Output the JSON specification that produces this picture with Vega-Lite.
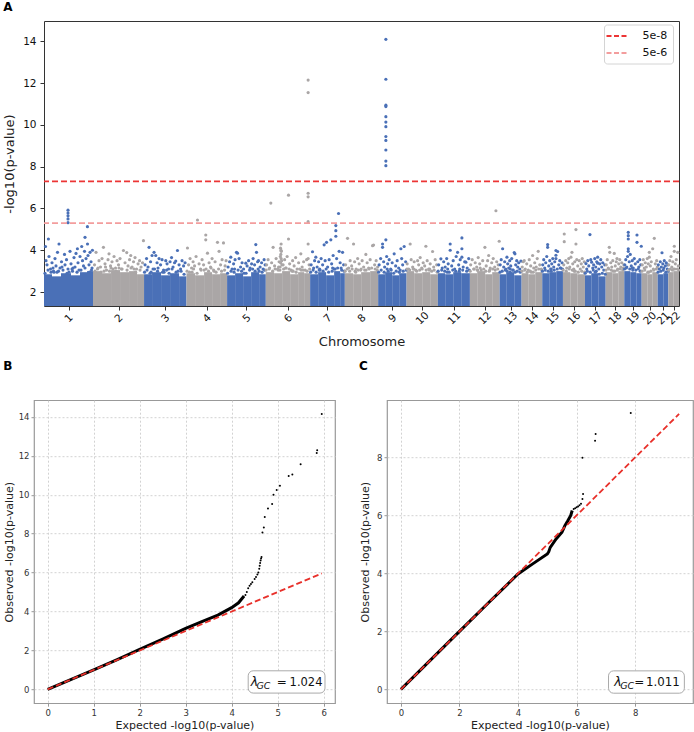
{
"$schema": "https://vega.github.io/schema/vega-lite/v6.json",
"background": "white",
"padding": {"left": 1, "top": 0, "right": 0, "bottom": 0},
"config": {"font": "DejaVu Sans", "view": {"stroke": null}, "axis": {"labelColor": "#222", "titleColor": "#222", "titleFontWeight": "normal"}, "axisX": {"labelOverlap": false}},
"datasets": {
"seg": [
{"c":1,"s":0,"e":8,"t":2.85},{"c":1,"s":8,"e":17,"t":2.75},{"c":1,"s":17,"e":27,"t":2.9},{"c":1,"s":27,"e":36,"t":2.8},{"c":1,"s":36,"e":43,"t":2.95},{"c":1,"s":43,"e":49,"t":3.0},
{"c":2,"s":49,"e":58,"t":3.0},{"c":2,"s":58,"e":67,"t":2.9},{"c":2,"s":67,"e":76,"t":3.05},{"c":2,"s":76,"e":85,"t":2.95},{"c":2,"s":85,"e":93,"t":3.0},{"c":2,"s":93,"e":100,"t":2.85},
{"c":3,"s":100,"e":108,"t":2.85},{"c":3,"s":108,"e":117,"t":2.95},{"c":3,"s":117,"e":126,"t":2.8},{"c":3,"s":126,"e":135,"t":2.9},{"c":3,"s":135,"e":142.4,"t":2.75},
{"c":4,"s":142.4,"e":151,"t":2.9},{"c":4,"s":151,"e":160,"t":2.8},{"c":4,"s":160,"e":168,"t":2.95},{"c":4,"s":168,"e":176,"t":2.85},{"c":4,"s":176,"e":183,"t":2.9},
{"c":5,"s":183,"e":191,"t":2.8},{"c":5,"s":191,"e":199,"t":2.9},{"c":5,"s":199,"e":207,"t":2.75},{"c":5,"s":207,"e":215,"t":2.95},{"c":5,"s":215,"e":221.7,"t":2.85},
{"c":6,"s":221.7,"e":230,"t":2.95},{"c":6,"s":230,"e":238,"t":2.9},{"c":6,"s":238,"e":246,"t":3.0},{"c":6,"s":246,"e":254,"t":2.85},{"c":6,"s":254,"e":260,"t":2.95},{"c":6,"s":260,"e":266,"t":2.9},
{"c":7,"s":266,"e":274,"t":2.85},{"c":7,"s":274,"e":282,"t":2.95},{"c":7,"s":282,"e":290,"t":2.8},{"c":7,"s":290,"e":296,"t":3.0},{"c":7,"s":296,"e":300.7,"t":2.9},
{"c":8,"s":300.7,"e":309,"t":2.9},{"c":8,"s":309,"e":317,"t":2.85},{"c":8,"s":317,"e":326,"t":2.95},{"c":8,"s":326,"e":334,"t":3.0},
{"c":9,"s":334,"e":341,"t":2.85},{"c":9,"s":341,"e":348,"t":2.95},{"c":9,"s":348,"e":355,"t":2.8},{"c":9,"s":355,"e":362.4,"t":2.9},
{"c":10,"s":362.4,"e":370,"t":3.0},{"c":10,"s":370,"e":378,"t":2.9},{"c":10,"s":378,"e":386,"t":2.95},{"c":10,"s":386,"e":393.7,"t":2.85},
{"c":11,"s":393.7,"e":401,"t":2.9},{"c":11,"s":401,"e":409,"t":2.85},{"c":11,"s":409,"e":417,"t":2.95},{"c":11,"s":417,"e":425.7,"t":2.9},
{"c":12,"s":425.7,"e":433,"t":2.9},{"c":12,"s":433,"e":441,"t":3.0},{"c":12,"s":441,"e":448,"t":2.85},{"c":12,"s":448,"e":455.4,"t":2.95},
{"c":13,"s":455.4,"e":462,"t":2.85},{"c":13,"s":462,"e":470,"t":2.95},{"c":13,"s":470,"e":477.4,"t":2.8},
{"c":14,"s":477.4,"e":484,"t":2.9},{"c":14,"s":484,"e":491,"t":2.85},{"c":14,"s":491,"e":498,"t":2.95},
{"c":15,"s":498,"e":505,"t":2.9},{"c":15,"s":505,"e":512,"t":2.95},{"c":15,"s":512,"e":518.7,"t":3.0},
{"c":16,"s":518.7,"e":526,"t":2.95},{"c":16,"s":526,"e":533,"t":2.9},{"c":16,"s":533,"e":540.7,"t":2.85},
{"c":17,"s":540.7,"e":547,"t":2.8},{"c":17,"s":547,"e":554,"t":2.9},{"c":17,"s":554,"e":561.4,"t":2.75},
{"c":18,"s":561.4,"e":568,"t":2.95},{"c":18,"s":568,"e":574,"t":2.9},{"c":18,"s":574,"e":580,"t":3.0},
{"c":19,"s":580,"e":586,"t":3.0},{"c":19,"s":586,"e":592,"t":2.95},{"c":19,"s":592,"e":597.4,"t":2.9},
{"c":20,"s":597.4,"e":603,"t":2.9},{"c":20,"s":603,"e":608,"t":2.85},{"c":20,"s":608,"e":613.4,"t":2.95},
{"c":21,"s":613.4,"e":619,"t":2.85},{"c":21,"s":619,"e":624,"t":2.9},
{"c":22,"s":624,"e":629,"t":2.95},{"c":22,"s":629,"e":634.7,"t":3.0}
],
"pts": [
{"c":1,"x":1.5,"p":4.18},{"c":1,"x":4.4,"p":4.54},{"c":1,"x":15,"p":4.3},{"c":1,"x":33.4,"p":4.07},{"c":1,"x":37.7,"p":4.18},{"c":1,"x":43.4,"p":5.13},{"c":1,"x":41,"p":4.62},{"c":1,"x":43.5,"p":4.3},{"c":1,"x":48.4,"p":4.0},{"c":1,"x":2,"p":3.5},{"c":1,"x":3,"p":3.3},{"c":1,"x":5,"p":3.7},{"c":1,"x":6.5,"p":3.1},{"c":1,"x":8,"p":3.4},{"c":1,"x":9.5,"p":3.0},{"c":1,"x":11,"p":3.6},{"c":1,"x":12,"p":3.25},{"c":1,"x":13.5,"p":3.9},{"c":1,"x":16,"p":3.15},{"c":1,"x":17.5,"p":3.45},{"c":1,"x":19,"p":3.05},{"c":1,"x":20.5,"p":3.8},{"c":1,"x":21,"p":3.3},{"c":1,"x":22.5,"p":3.55},{"c":1,"x":24,"p":3.1},{"c":1,"x":26,"p":3.95},{"c":1,"x":27,"p":3.35},{"c":1,"x":28.5,"p":3.0},{"c":1,"x":30,"p":3.65},{"c":1,"x":31,"p":3.2},{"c":1,"x":32,"p":3.85},{"c":1,"x":34,"p":3.4},{"c":1,"x":35,"p":3.05},{"c":1,"x":36,"p":3.7},{"c":1,"x":38.5,"p":3.5},{"c":1,"x":39.5,"p":3.25},{"c":1,"x":40.5,"p":3.95},{"c":1,"x":42,"p":3.6},{"c":1,"x":44,"p":3.75},{"c":1,"x":45,"p":3.3},{"c":1,"x":46,"p":3.9},{"c":1,"x":47,"p":3.45},{"c":1,"x":48,"p":3.15},{"c":1,"x":10,"p":2.95},{"c":1,"x":25,"p":2.95},{"c":1,"x":29,"p":3.15},{"c":1,"x":14.5,"p":3.0},{"c":1,"x":7,"p":2.95},{"c":1,"x":24,"p":5.92},{"c":1,"x":24,"p":5.78},{"c":1,"x":24,"p":5.65},{"c":1,"x":24,"p":5.5},{"c":1,"x":24,"p":5.32},
{"c":1,"x":1,"p":2.9},{"c":1,"x":4,"p":3.05},{"c":1,"x":9,"p":3.15},{"c":1,"x":13,"p":2.95},{"c":1,"x":18,"p":3.2},{"c":1,"x":23,"p":2.9},{"c":1,"x":28,"p":3.1},{"c":1,"x":33,"p":2.95},{"c":1,"x":37,"p":3.05},{"c":1,"x":41,"p":3.15},{"c":1,"x":45.5,"p":2.95},{"c":1,"x":47.5,"p":3.05},
{"c":2,"x":50.5,"p":3.3},{"c":2,"x":52,"p":3.9},{"c":2,"x":53.5,"p":3.1},{"c":2,"x":55,"p":3.5},{"c":2,"x":56.5,"p":3.2},{"c":2,"x":58,"p":3.6},{"c":2,"x":59.4,"p":4.14},{"c":2,"x":61,"p":3.35},{"c":2,"x":62.5,"p":3.05},{"c":2,"x":64,"p":3.55},{"c":2,"x":65,"p":3.83},{"c":2,"x":66.5,"p":3.25},{"c":2,"x":68,"p":3.45},{"c":2,"x":70,"p":3.7},{"c":2,"x":71.5,"p":3.15},{"c":2,"x":73,"p":3.5},{"c":2,"x":74.5,"p":3.3},{"c":2,"x":76,"p":3.6},{"c":2,"x":77.5,"p":3.1},{"c":2,"x":79.4,"p":3.99},{"c":2,"x":81,"p":3.4},{"c":2,"x":82.7,"p":3.89},{"c":2,"x":84,"p":3.25},{"c":2,"x":85.5,"p":3.55},{"c":2,"x":86.7,"p":3.75},{"c":2,"x":88,"p":3.2},{"c":2,"x":89.5,"p":3.45},{"c":2,"x":91,"p":3.65},{"c":2,"x":92.5,"p":3.1},{"c":2,"x":94,"p":3.35},{"c":2,"x":95.5,"p":3.5},{"c":2,"x":97,"p":3.2},{"c":2,"x":98.5,"p":3.4},{"c":2,"x":99.4,"p":4.46},{"c":2,"x":60,"p":3.0},{"c":2,"x":75,"p":3.15},{"c":2,"x":90,"p":3.1},{"c":2,"x":67,"p":3.15},
{"c":2,"x":51,"p":3.0},{"c":2,"x":54,"p":3.15},{"c":2,"x":57,"p":2.95},{"c":2,"x":61.5,"p":3.2},{"c":2,"x":65.5,"p":3.0},{"c":2,"x":69,"p":3.1},{"c":2,"x":72,"p":3.0},{"c":2,"x":78,"p":3.1},{"c":2,"x":83,"p":3.05},{"c":2,"x":87,"p":3.15},{"c":2,"x":91.5,"p":2.95},{"c":2,"x":96,"p":3.05},
{"c":3,"x":101,"p":3.3},{"c":3,"x":102.5,"p":3.6},{"c":3,"x":104,"p":3.2},{"c":3,"x":105,"p":4.14},{"c":3,"x":106.5,"p":3.45},{"c":3,"x":108,"p":3.75},{"c":3,"x":109,"p":3.1},{"c":3,"x":110,"p":3.9},{"c":3,"x":111.7,"p":3.75},{"c":3,"x":113,"p":3.4},{"c":3,"x":114,"p":3.15},{"c":3,"x":115,"p":3.6},{"c":3,"x":116.5,"p":3.3},{"c":3,"x":118,"p":3.55},{"c":3,"x":119.5,"p":3.05},{"c":3,"x":121.7,"p":3.5},{"c":3,"x":123,"p":3.35},{"c":3,"x":124.5,"p":3.1},{"c":3,"x":126,"p":3.45},{"c":3,"x":127.5,"p":3.65},{"c":3,"x":129,"p":3.2},{"c":3,"x":130.5,"p":3.4},{"c":3,"x":131.7,"p":3.48},{"c":3,"x":133.4,"p":3.99},{"c":3,"x":135,"p":3.3},{"c":3,"x":136.5,"p":3.1},{"c":3,"x":138,"p":3.5},{"c":3,"x":139.5,"p":3.25},{"c":3,"x":141,"p":3.4},{"c":3,"x":107,"p":2.95},{"c":3,"x":120,"p":2.95},{"c":3,"x":134,"p":3.0},
{"c":3,"x":100.5,"p":2.95},{"c":3,"x":103,"p":3.05},{"c":3,"x":106,"p":2.9},{"c":3,"x":110.5,"p":3.1},{"c":3,"x":113.5,"p":3.0},{"c":3,"x":118.5,"p":2.95},{"c":3,"x":122.5,"p":3.05},{"c":3,"x":125,"p":2.9},{"c":3,"x":128,"p":3.1},{"c":3,"x":132,"p":2.95},{"c":3,"x":137,"p":3.0},{"c":3,"x":140,"p":2.85},
{"c":4,"x":143.4,"p":4.11},{"c":4,"x":144.5,"p":3.3},{"c":4,"x":146,"p":3.6},{"c":4,"x":147.5,"p":3.15},{"c":4,"x":149,"p":3.45},{"c":4,"x":150.5,"p":3.25},{"c":4,"x":152,"p":3.7},{"c":4,"x":153.4,"p":5.45},{"c":4,"x":155,"p":3.35},{"c":4,"x":156.5,"p":3.1},{"c":4,"x":158,"p":3.55},{"c":4,"x":159.5,"p":3.3},{"c":4,"x":161.7,"p":4.73},{"c":4,"x":161.7,"p":4.5},{"c":4,"x":163.4,"p":3.86},{"c":4,"x":165,"p":3.4},{"c":4,"x":166.5,"p":3.2},{"c":4,"x":168,"p":3.6},{"c":4,"x":169.5,"p":3.05},{"c":4,"x":171,"p":3.45},{"c":4,"x":173.4,"p":4.38},{"c":4,"x":175,"p":3.95},{"c":4,"x":176.5,"p":3.3},{"c":4,"x":178,"p":3.55},{"c":4,"x":179.4,"p":4.35},{"c":4,"x":181,"p":3.25},{"c":4,"x":182,"p":3.5},{"c":4,"x":148,"p":2.95},{"c":4,"x":160,"p":3.05},{"c":4,"x":170,"p":3.0},
{"c":4,"x":143,"p":3.0},{"c":4,"x":145.5,"p":2.95},{"c":4,"x":149.5,"p":3.1},{"c":4,"x":153,"p":2.9},{"c":4,"x":157,"p":3.05},{"c":4,"x":162,"p":3.1},{"c":4,"x":164.5,"p":3.0},{"c":4,"x":167,"p":3.15},{"c":4,"x":172,"p":2.95},{"c":4,"x":174.5,"p":3.1},{"c":4,"x":177.5,"p":3.0},{"c":4,"x":180.5,"p":3.05},
{"c":5,"x":184,"p":3.2},{"c":5,"x":185.5,"p":3.45},{"c":5,"x":186.7,"p":3.67},{"c":5,"x":188,"p":3.1},{"c":5,"x":189.5,"p":3.35},{"c":5,"x":191,"p":3.55},{"c":5,"x":192.4,"p":3.9},{"c":5,"x":193.4,"p":3.86},{"c":5,"x":195,"p":3.6},{"c":5,"x":196.5,"p":3.2},{"c":5,"x":198,"p":3.4},{"c":5,"x":199.5,"p":3.1},{"c":5,"x":201.7,"p":3.38},{"c":5,"x":203,"p":3.25},{"c":5,"x":204.5,"p":3.5},{"c":5,"x":206,"p":3.15},{"c":5,"x":207.5,"p":3.35},{"c":5,"x":209,"p":3.6},{"c":5,"x":210.5,"p":3.3},{"c":5,"x":211.7,"p":4.27},{"c":5,"x":212.4,"p":3.9},{"c":5,"x":213.5,"p":3.45},{"c":5,"x":214.4,"p":3.5},{"c":5,"x":216,"p":3.2},{"c":5,"x":217.5,"p":3.4},{"c":5,"x":219,"p":3.1},{"c":5,"x":220,"p":3.55},{"c":5,"x":221,"p":3.3},{"c":5,"x":190,"p":2.95},{"c":5,"x":200,"p":2.9},{"c":5,"x":215,"p":3.0},
{"c":5,"x":183.5,"p":2.9},{"c":5,"x":187,"p":3.0},{"c":5,"x":190.5,"p":3.1},{"c":5,"x":194,"p":3.05},{"c":5,"x":197.5,"p":3.0},{"c":5,"x":202,"p":2.9},{"c":5,"x":205.5,"p":3.05},{"c":5,"x":208.5,"p":3.1},{"c":5,"x":211,"p":3.0},{"c":5,"x":214,"p":3.1},{"c":5,"x":218,"p":2.95},{"c":5,"x":220.5,"p":3.05},
{"c":6,"x":222.5,"p":3.3},{"c":6,"x":224,"p":3.55},{"c":6,"x":225.5,"p":3.15},{"c":6,"x":226.7,"p":6.26},{"c":6,"x":227.5,"p":3.4},{"c":6,"x":229,"p":4.14},{"c":6,"x":230.5,"p":3.25},{"c":6,"x":232,"p":3.6},{"c":6,"x":233.5,"p":3.1},{"c":6,"x":235,"p":3.45},{"c":6,"x":236,"p":3.2},{"c":6,"x":236.5,"p":3.4},{"c":6,"x":237,"p":3.6},{"c":6,"x":236.7,"p":3.8},{"c":6,"x":237.2,"p":3.95},{"c":6,"x":236.4,"p":4.1},{"c":6,"x":237,"p":4.3},{"c":6,"x":237.5,"p":3.5},{"c":6,"x":236.2,"p":3.7},{"c":6,"x":237.8,"p":3.3},{"c":6,"x":235.8,"p":3.05},{"c":6,"x":236.9,"p":4.0},{"c":6,"x":239,"p":3.3},{"c":6,"x":240.5,"p":3.55},{"c":6,"x":242,"p":3.15},{"c":6,"x":243,"p":3.7},{"c":6,"x":244.4,"p":6.64},{"c":6,"x":244.4,"p":4.54},{"c":6,"x":245.5,"p":3.35},{"c":6,"x":247,"p":3.05},{"c":6,"x":248.5,"p":3.5},{"c":6,"x":250,"p":3.25},{"c":6,"x":251.5,"p":3.65},{"c":6,"x":253,"p":3.1},{"c":6,"x":254.5,"p":3.4},{"c":6,"x":256.7,"p":3.83},{"c":6,"x":258,"p":3.2},{"c":6,"x":259.5,"p":3.45},{"c":6,"x":261,"p":3.05},{"c":6,"x":262.5,"p":3.55},{"c":6,"x":264,"p":6.73},{"c":6,"x":264,"p":6.56},{"c":6,"x":264,"p":5.37},{"c":6,"x":264,"p":4.3},{"c":6,"x":264,"p":3.6},{"c":6,"x":264,"p":12.15},{"c":6,"x":264,"p":11.55},{"c":6,"x":265,"p":3.3},{"c":6,"x":234,"p":3.05},{"c":6,"x":249,"p":3.0},{"c":6,"x":257,"p":3.05},
{"c":6,"x":222,"p":3.05},{"c":6,"x":225,"p":3.1},{"c":6,"x":228.5,"p":3.0},{"c":6,"x":231,"p":3.1},{"c":6,"x":234.5,"p":3.2},{"c":6,"x":239.5,"p":3.1},{"c":6,"x":241.5,"p":3.15},{"c":6,"x":245,"p":3.1},{"c":6,"x":248,"p":3.0},{"c":6,"x":252,"p":2.95},{"c":6,"x":255.5,"p":3.1},{"c":6,"x":259,"p":3.05},{"c":6,"x":263,"p":3.0},{"c":6,"x":265.5,"p":3.1},
{"c":7,"x":267,"p":3.3},{"c":7,"x":268.4,"p":3.93},{"c":7,"x":269.5,"p":3.15},{"c":7,"x":270.5,"p":3.5},{"c":7,"x":271.7,"p":3.67},{"c":7,"x":273,"p":3.2},{"c":7,"x":274.5,"p":3.45},{"c":7,"x":276,"p":3.05},{"c":7,"x":277,"p":3.6},{"c":7,"x":278.5,"p":3.3},{"c":7,"x":280,"p":4.26},{"c":7,"x":281,"p":3.5},{"c":7,"x":282.4,"p":4.38},{"c":7,"x":283.5,"p":3.2},{"c":7,"x":285,"p":3.55},{"c":7,"x":286.7,"p":4.5},{"c":7,"x":287.5,"p":3.35},{"c":7,"x":289,"p":3.75},{"c":7,"x":290,"p":3.1},{"c":7,"x":291.7,"p":5.18},{"c":7,"x":291.7,"p":4.94},{"c":7,"x":291.7,"p":4.67},{"c":7,"x":292.5,"p":3.6},{"c":7,"x":294.4,"p":5.76},{"c":7,"x":295,"p":3.95},{"c":7,"x":296,"p":3.4},{"c":7,"x":297,"p":3.15},{"c":7,"x":298.4,"p":3.9},{"c":7,"x":299.5,"p":3.3},{"c":7,"x":275,"p":3.05},{"c":7,"x":288,"p":3.0},
{"c":7,"x":266.5,"p":2.95},{"c":7,"x":269,"p":3.05},{"c":7,"x":272,"p":2.95},{"c":7,"x":275.5,"p":3.1},{"c":7,"x":279,"p":3.0},{"c":7,"x":282,"p":3.1},{"c":7,"x":284.5,"p":2.95},{"c":7,"x":288.5,"p":3.15},{"c":7,"x":291,"p":3.1},{"c":7,"x":293.5,"p":3.15},{"c":7,"x":297.5,"p":3.05},{"c":7,"x":300,"p":3.0},
{"c":8,"x":301.5,"p":3.3},{"c":8,"x":303.4,"p":4.57},{"c":8,"x":304.5,"p":3.15},{"c":8,"x":306,"p":3.5},{"c":8,"x":307.5,"p":3.25},{"c":8,"x":309.4,"p":4.3},{"c":8,"x":310.5,"p":3.45},{"c":8,"x":312,"p":3.1},{"c":8,"x":313.5,"p":3.6},{"c":8,"x":315,"p":3.35},{"c":8,"x":316.5,"p":3.05},{"c":8,"x":318,"p":3.5},{"c":8,"x":319.5,"p":3.2},{"c":8,"x":321.7,"p":3.8},{"c":8,"x":323,"p":3.4},{"c":8,"x":324.5,"p":3.15},{"c":8,"x":326,"p":3.55},{"c":8,"x":328.4,"p":4.22},{"c":8,"x":329.4,"p":4.25},{"c":8,"x":330.5,"p":3.3},{"c":8,"x":332,"p":3.5},{"c":8,"x":333.5,"p":3.2},{"c":8,"x":311,"p":3.0},{"c":8,"x":322,"p":3.05},
{"c":8,"x":301,"p":3.0},{"c":8,"x":303,"p":3.1},{"c":8,"x":305.5,"p":3.0},{"c":8,"x":308,"p":3.1},{"c":8,"x":311.5,"p":2.95},{"c":8,"x":314,"p":3.05},{"c":8,"x":317,"p":3.1},{"c":8,"x":320.5,"p":3.05},{"c":8,"x":325,"p":3.1},{"c":8,"x":327.5,"p":3.15},{"c":8,"x":331,"p":3.1},{"c":8,"x":333,"p":3.05},
{"c":9,"x":335,"p":3.3},{"c":9,"x":336.5,"p":3.6},{"c":9,"x":338.4,"p":4.3},{"c":9,"x":338.4,"p":4.14},{"c":9,"x":339.5,"p":3.45},{"c":9,"x":340.5,"p":3.2},{"c":9,"x":341.7,"p":4.5},{"c":9,"x":342.5,"p":3.7},{"c":9,"x":343.5,"p":3.35},{"c":9,"x":345,"p":3.55},{"c":9,"x":346.5,"p":3.1},{"c":9,"x":348,"p":3.4},{"c":9,"x":350,"p":3.83},{"c":9,"x":351.5,"p":3.25},{"c":9,"x":353,"p":3.5},{"c":9,"x":354.5,"p":3.15},{"c":9,"x":356.7,"p":4.07},{"c":9,"x":357.5,"p":3.6},{"c":9,"x":358.5,"p":3.3},{"c":9,"x":360,"p":4.18},{"c":9,"x":361.5,"p":3.45},{"c":9,"x":344,"p":3.0},{"c":9,"x":355,"p":2.95},
{"c":9,"x":334.5,"p":2.95},{"c":9,"x":337,"p":3.05},{"c":9,"x":340,"p":2.95},{"c":9,"x":343,"p":3.1},{"c":9,"x":347,"p":3.05},{"c":9,"x":349.5,"p":2.9},{"c":9,"x":352,"p":3.0},{"c":9,"x":356,"p":3.05},{"c":9,"x":359,"p":3.0},{"c":9,"x":362,"p":3.05},
{"c":9,"x":341.7,"p":14.1},{"c":9,"x":341.7,"p":12.19},{"c":9,"x":341.7,"p":10.95},{"c":9,"x":341.7,"p":10.88},{"c":9,"x":341.7,"p":10.4},{"c":9,"x":341.7,"p":10.14},{"c":9,"x":341.7,"p":9.92},{"c":9,"x":341.7,"p":9.45},{"c":9,"x":341.7,"p":9.26},{"c":9,"x":341.7,"p":8.8},{"c":9,"x":341.7,"p":8.27},{"c":9,"x":341.7,"p":8.05},
{"c":10,"x":363,"p":3.35},{"c":10,"x":364.5,"p":3.1},{"c":10,"x":366,"p":4.3},{"c":10,"x":367,"p":3.55},{"c":10,"x":368.5,"p":3.2},{"c":10,"x":370,"p":3.45},{"c":10,"x":371.5,"p":3.05},{"c":10,"x":373.4,"p":3.5},{"c":10,"x":374.5,"p":3.3},{"c":10,"x":376,"p":3.65},{"c":10,"x":377.5,"p":3.15},{"c":10,"x":379,"p":3.4},{"c":10,"x":380.5,"p":3.25},{"c":10,"x":381.7,"p":4.19},{"c":10,"x":383,"p":3.5},{"c":10,"x":384.5,"p":3.1},{"c":10,"x":386,"p":3.35},{"c":10,"x":388.4,"p":3.94},{"c":10,"x":389.5,"p":3.2},{"c":10,"x":391,"p":3.55},{"c":10,"x":392.5,"p":3.3},{"c":10,"x":369,"p":3.1},{"c":10,"x":385,"p":3.05},
{"c":10,"x":362.8,"p":3.1},{"c":10,"x":365.5,"p":3.05},{"c":10,"x":369.5,"p":3.1},{"c":10,"x":372.5,"p":3.0},{"c":10,"x":375.5,"p":3.05},{"c":10,"x":378,"p":3.1},{"c":10,"x":382,"p":3.05},{"c":10,"x":385.5,"p":3.1},{"c":10,"x":387.5,"p":3.0},{"c":10,"x":390,"p":3.05},{"c":10,"x":393,"p":2.95},
{"c":11,"x":394.5,"p":3.3},{"c":11,"x":396.7,"p":3.59},{"c":11,"x":398,"p":3.15},{"c":11,"x":399.5,"p":3.45},{"c":11,"x":401,"p":3.2},{"c":11,"x":402.5,"p":3.6},{"c":11,"x":404,"p":3.35},{"c":11,"x":406,"p":4.3},{"c":11,"x":406,"p":4.0},{"c":11,"x":407.5,"p":3.25},{"c":11,"x":409,"p":3.5},{"c":11,"x":410.5,"p":3.1},{"c":11,"x":412,"p":3.7},{"c":11,"x":413.4,"p":3.9},{"c":11,"x":414.5,"p":3.3},{"c":11,"x":416,"p":3.55},{"c":11,"x":417.7,"p":4.59},{"c":11,"x":417.7,"p":4.07},{"c":11,"x":417.7,"p":3.67},{"c":11,"x":419,"p":3.2},{"c":11,"x":420.5,"p":3.45},{"c":11,"x":421.7,"p":3.43},{"c":11,"x":423,"p":3.15},{"c":11,"x":424.5,"p":3.6},{"c":11,"x":403,"p":2.95},{"c":11,"x":415,"p":3.0},
{"c":11,"x":394,"p":3.0},{"c":11,"x":397.5,"p":3.05},{"c":11,"x":400.5,"p":3.0},{"c":11,"x":403.5,"p":3.1},{"c":11,"x":405,"p":2.95},{"c":11,"x":408.5,"p":3.05},{"c":11,"x":411.5,"p":3.0},{"c":11,"x":415.5,"p":3.1},{"c":11,"x":418.5,"p":3.05},{"c":11,"x":422.5,"p":3.0},{"c":11,"x":425,"p":3.05},
{"c":12,"x":426.5,"p":3.3},{"c":12,"x":428,"p":3.55},{"c":12,"x":429.5,"p":3.1},{"c":12,"x":431,"p":3.4},{"c":12,"x":432.5,"p":3.2},{"c":12,"x":434,"p":3.65},{"c":12,"x":435.5,"p":3.35},{"c":12,"x":437,"p":3.05},{"c":12,"x":438.5,"p":3.5},{"c":12,"x":440.7,"p":4.14},{"c":12,"x":442,"p":3.25},{"c":12,"x":443.4,"p":3.5},{"c":12,"x":444.5,"p":3.75},{"c":12,"x":446,"p":3.15},{"c":12,"x":447.5,"p":3.4},{"c":12,"x":449,"p":3.6},{"c":12,"x":450.5,"p":3.2},{"c":12,"x":451.7,"p":5.89},{"c":12,"x":452.5,"p":3.45},{"c":12,"x":454,"p":3.3},{"c":12,"x":455,"p":4.43},{"c":12,"x":433,"p":3.05},{"c":12,"x":445,"p":3.0},
{"c":12,"x":426,"p":3.0},{"c":12,"x":430,"p":3.1},{"c":12,"x":433.5,"p":3.05},{"c":12,"x":436,"p":3.15},{"c":12,"x":439.5,"p":3.1},{"c":12,"x":441.5,"p":3.0},{"c":12,"x":445.5,"p":3.05},{"c":12,"x":448.5,"p":3.1},{"c":12,"x":451,"p":3.05},{"c":12,"x":453.5,"p":3.1},
{"c":13,"x":456,"p":3.3},{"c":13,"x":457,"p":3.55},{"c":13,"x":458.4,"p":4.07},{"c":13,"x":459.5,"p":3.2},{"c":13,"x":460.5,"p":3.45},{"c":13,"x":461.5,"p":3.1},{"c":13,"x":462.7,"p":3.67},{"c":13,"x":463.5,"p":3.35},{"c":13,"x":464.5,"p":3.15},{"c":13,"x":465.5,"p":3.5},{"c":13,"x":466.5,"p":3.25},{"c":13,"x":467.5,"p":3.6},{"c":13,"x":468.5,"p":3.05},{"c":13,"x":470,"p":3.89},{"c":13,"x":470.7,"p":3.83},{"c":13,"x":471.5,"p":3.3},{"c":13,"x":472.5,"p":3.5},{"c":13,"x":473.5,"p":3.2},{"c":13,"x":474.5,"p":3.4},{"c":13,"x":475.5,"p":3.1},{"c":13,"x":476.7,"p":3.48},{"c":13,"x":466,"p":2.95},
{"c":13,"x":455.8,"p":2.95},{"c":13,"x":458,"p":3.0},{"c":13,"x":461,"p":3.05},{"c":13,"x":463,"p":3.0},{"c":13,"x":466,"p":3.1},{"c":13,"x":469,"p":3.05},{"c":13,"x":471,"p":2.95},{"c":13,"x":473,"p":3.0},{"c":13,"x":476,"p":2.95},
{"c":14,"x":478,"p":3.2},{"c":14,"x":479,"p":3.45},{"c":14,"x":480,"p":3.5},{"c":14,"x":481,"p":3.1},{"c":14,"x":482.5,"p":3.35},{"c":14,"x":484,"p":3.05},{"c":14,"x":485,"p":3.55},{"c":14,"x":486.5,"p":3.25},{"c":14,"x":488.4,"p":3.75},{"c":14,"x":489.5,"p":3.15},{"c":14,"x":490.5,"p":3.4},{"c":14,"x":492,"p":3.2},{"c":14,"x":493,"p":3.6},{"c":14,"x":494,"p":3.95},{"c":14,"x":495.5,"p":3.3},{"c":14,"x":497,"p":3.1},{"c":14,"x":487,"p":2.95},
{"c":14,"x":477.8,"p":3.0},{"c":14,"x":480.5,"p":3.05},{"c":14,"x":483,"p":2.95},{"c":14,"x":486,"p":3.0},{"c":14,"x":489,"p":2.95},{"c":14,"x":491.5,"p":3.05},{"c":14,"x":494.5,"p":3.1},{"c":14,"x":497.5,"p":3.05},
{"c":15,"x":498.5,"p":3.3},{"c":15,"x":499.5,"p":3.55},{"c":15,"x":500.5,"p":3.15},{"c":15,"x":501.5,"p":3.4},{"c":15,"x":502.5,"p":3.7},{"c":15,"x":503.4,"p":4.27},{"c":15,"x":503.4,"p":4.14},{"c":15,"x":504.5,"p":3.25},{"c":15,"x":505.5,"p":3.5},{"c":15,"x":506.5,"p":3.1},{"c":15,"x":507.5,"p":3.35},{"c":15,"x":508.5,"p":3.6},{"c":15,"x":509.5,"p":3.2},{"c":15,"x":510.5,"p":3.45},{"c":15,"x":511.7,"p":3.99},{"c":15,"x":511.7,"p":3.76},{"c":15,"x":511.7,"p":3.6},{"c":15,"x":513.4,"p":3.94},{"c":15,"x":514.5,"p":3.3},{"c":15,"x":515.5,"p":3.5},{"c":15,"x":516.5,"p":3.15},{"c":15,"x":517.8,"p":3.4},{"c":15,"x":507,"p":3.0},
{"c":15,"x":498.2,"p":3.0},{"c":15,"x":501,"p":3.05},{"c":15,"x":504,"p":3.0},{"c":15,"x":507,"p":3.1},{"c":15,"x":510,"p":3.05},{"c":15,"x":513,"p":3.1},{"c":15,"x":516,"p":3.15},{"c":15,"x":518.3,"p":3.1},
{"c":16,"x":519.5,"p":3.3},{"c":16,"x":520,"p":4.78},{"c":16,"x":520,"p":4.41},{"c":16,"x":521.5,"p":3.5},{"c":16,"x":522.5,"p":3.15},{"c":16,"x":523.5,"p":3.4},{"c":16,"x":524.5,"p":3.6},{"c":16,"x":525.5,"p":3.2},{"c":16,"x":526.7,"p":3.67},{"c":16,"x":527.7,"p":3.9},{"c":16,"x":528.5,"p":3.35},{"c":16,"x":529.5,"p":3.1},{"c":16,"x":530.5,"p":3.45},{"c":16,"x":531.7,"p":4.99},{"c":16,"x":531.7,"p":4.3},{"c":16,"x":532.5,"p":3.55},{"c":16,"x":533.5,"p":3.25},{"c":16,"x":535,"p":3.5},{"c":16,"x":536,"p":3.1},{"c":16,"x":537,"p":3.35},{"c":16,"x":538,"p":3.6},{"c":16,"x":539,"p":3.2},{"c":16,"x":540,"p":3.45},{"c":16,"x":530,"p":3.0},
{"c":16,"x":519,"p":3.05},{"c":16,"x":522,"p":3.0},{"c":16,"x":525,"p":3.1},{"c":16,"x":528,"p":3.05},{"c":16,"x":531,"p":3.0},{"c":16,"x":534,"p":2.95},{"c":16,"x":537.5,"p":3.0},{"c":16,"x":540.3,"p":2.95},
{"c":17,"x":541.7,"p":3.36},{"c":17,"x":542.5,"p":3.1},{"c":17,"x":543.5,"p":3.5},{"c":17,"x":544.5,"p":3.25},{"c":17,"x":545.7,"p":4.75},{"c":17,"x":546.5,"p":3.55},{"c":17,"x":547.4,"p":3.43},{"c":17,"x":548.5,"p":3.15},{"c":17,"x":549.4,"p":3.3},{"c":17,"x":550.5,"p":3.6},{"c":17,"x":551.5,"p":3.2},{"c":17,"x":552.5,"p":3.45},{"c":17,"x":553.4,"p":3.67},{"c":17,"x":553.4,"p":3.38},{"c":17,"x":554.5,"p":3.1},{"c":17,"x":555.5,"p":3.35},{"c":17,"x":556.5,"p":3.55},{"c":17,"x":557.5,"p":3.2},{"c":17,"x":558.5,"p":3.4},{"c":17,"x":559.5,"p":3.05},{"c":17,"x":560.5,"p":3.3},{"c":17,"x":551,"p":2.95},
{"c":17,"x":541,"p":2.9},{"c":17,"x":543,"p":3.0},{"c":17,"x":546,"p":2.95},{"c":17,"x":549,"p":3.05},{"c":17,"x":552,"p":3.0},{"c":17,"x":555,"p":2.85},{"c":17,"x":558,"p":2.9},{"c":17,"x":561,"p":2.85},
{"c":18,"x":562,"p":3.3},{"c":18,"x":563,"p":3.55},{"c":18,"x":564,"p":3.15},{"c":18,"x":565,"p":4.14},{"c":18,"x":565.5,"p":3.9},{"c":18,"x":566.5,"p":3.4},{"c":18,"x":567.5,"p":3.2},{"c":18,"x":568.5,"p":3.5},{"c":18,"x":570,"p":3.85},{"c":18,"x":571,"p":3.25},{"c":18,"x":572,"p":3.45},{"c":18,"x":572.7,"p":3.6},{"c":18,"x":573.5,"p":3.1},{"c":18,"x":574.5,"p":3.35},{"c":18,"x":575.5,"p":3.55},{"c":18,"x":576.5,"p":3.2},{"c":18,"x":577.5,"p":3.4},{"c":18,"x":578.5,"p":3.05},{"c":18,"x":579.5,"p":3.3},{"c":18,"x":569,"p":3.0},
{"c":18,"x":561.8,"p":3.05},{"c":18,"x":564.5,"p":3.1},{"c":18,"x":567,"p":3.05},{"c":18,"x":570.5,"p":3.0},{"c":18,"x":573,"p":3.05},{"c":18,"x":576,"p":3.1},{"c":18,"x":579,"p":3.15},
{"c":19,"x":580.5,"p":3.3},{"c":19,"x":581.5,"p":3.55},{"c":19,"x":582.5,"p":3.2},{"c":19,"x":583.3,"p":3.7},{"c":19,"x":584,"p":4.86},{"c":19,"x":584,"p":4.7},{"c":19,"x":584,"p":4.54},{"c":19,"x":584,"p":4.07},{"c":19,"x":584,"p":3.95},{"c":19,"x":585,"p":3.45},{"c":19,"x":586,"p":3.8},{"c":19,"x":587,"p":3.25},{"c":19,"x":588,"p":3.5},{"c":19,"x":589,"p":3.15},{"c":19,"x":590,"p":3.6},{"c":19,"x":591,"p":3.35},{"c":19,"x":592.7,"p":4.73},{"c":19,"x":592.7,"p":4.38},{"c":19,"x":593.5,"p":3.45},{"c":19,"x":594.5,"p":3.2},{"c":19,"x":595.5,"p":3.55},{"c":19,"x":596.5,"p":3.3},{"c":19,"x":597,"p":4.19},{"c":19,"x":588.5,"p":3.05},
{"c":19,"x":580.3,"p":3.1},{"c":19,"x":582,"p":3.15},{"c":19,"x":585.5,"p":3.1},{"c":19,"x":588,"p":3.15},{"c":19,"x":591.5,"p":3.05},{"c":19,"x":594,"p":3.1},{"c":19,"x":596,"p":3.0},
{"c":20,"x":598,"p":3.3},{"c":20,"x":599,"p":3.55},{"c":20,"x":600,"p":3.15},{"c":20,"x":601,"p":3.4},{"c":20,"x":602,"p":3.2},{"c":20,"x":603,"p":3.6},{"c":20,"x":604,"p":3.35},{"c":20,"x":605,"p":3.9},{"c":20,"x":605,"p":3.67},{"c":20,"x":606,"p":3.25},{"c":20,"x":607,"p":3.45},{"c":20,"x":608.4,"p":4.07},{"c":20,"x":609,"p":3.1},{"c":20,"x":610,"p":4.57},{"c":20,"x":611,"p":3.35},{"c":20,"x":612.4,"p":3.5},{"c":20,"x":613,"p":3.2},{"c":20,"x":604.5,"p":2.95},
{"c":20,"x":597.8,"p":3.0},{"c":20,"x":600.5,"p":3.05},{"c":20,"x":603.5,"p":2.95},{"c":20,"x":606.5,"p":3.0},{"c":20,"x":609.5,"p":3.05},{"c":20,"x":612,"p":3.1},
{"c":21,"x":614,"p":3.3},{"c":21,"x":615,"p":3.1},{"c":21,"x":616,"p":3.45},{"c":21,"x":617,"p":3.2},{"c":21,"x":617.7,"p":3.88},{"c":21,"x":618.5,"p":3.35},{"c":21,"x":619.5,"p":3.15},{"c":21,"x":620,"p":3.5},{"c":21,"x":621,"p":3.25},{"c":21,"x":622,"p":3.4},{"c":21,"x":623,"p":3.1},{"c":21,"x":623.5,"p":3.3},
{"c":21,"x":613.8,"p":2.95},{"c":21,"x":616.5,"p":3.0},{"c":21,"x":619,"p":3.05},{"c":21,"x":621.5,"p":2.95},{"c":21,"x":623.8,"p":3.0},
{"c":22,"x":624.5,"p":3.3},{"c":22,"x":625.5,"p":3.5},{"c":22,"x":626.7,"p":3.7},{"c":22,"x":627.5,"p":3.2},{"c":22,"x":628.5,"p":3.45},{"c":22,"x":629.3,"p":3.1},{"c":22,"x":630,"p":4.19},{"c":22,"x":630,"p":3.95},{"c":22,"x":631,"p":3.35},{"c":22,"x":632,"p":3.55},{"c":22,"x":633.4,"p":3.9},{"c":22,"x":634,"p":3.25},
{"c":22,"x":624.3,"p":3.05},{"c":22,"x":626,"p":3.1},{"c":22,"x":628,"p":3.05},{"c":22,"x":630.5,"p":3.1},{"c":22,"x":633,"p":3.1},{"c":22,"x":634.4,"p":3.05}
],
"thr": [{"label":"5e-8","v":7.30},{"label":"5e-6","v":5.30}],
"qbLine": [{"e":0,"o":0},{"e":0.5,"o":0.5},{"e":1,"o":1.0},{"e":1.5,"o":1.52},{"e":2,"o":2.05},{"e":2.5,"o":2.58},{"e":3,"o":3.13},{"e":3.34,"o":3.47},{"e":3.7,"o":3.82},{"e":4.0,"o":4.2},{"e":4.15,"o":4.45},{"e":4.27,"o":4.8}],
"qbPts": [{"e":4.3,"o":4.85},{"e":4.33,"o":5.0},{"e":4.36,"o":5.2},{"e":4.39,"o":5.32},{"e":4.42,"o":5.42},{"e":4.45,"o":5.5},{"e":4.5,"o":5.67},{"e":4.53,"o":5.78},{"e":4.56,"o":5.9},{"e":4.58,"o":6.0},{"e":4.6,"o":6.2},{"e":4.61,"o":6.35},{"e":4.62,"o":6.5},{"e":4.63,"o":6.62},{"e":4.64,"o":6.72},{"e":4.65,"o":6.8},{"e":4.67,"o":8.06},{"e":4.7,"o":8.32},{"e":4.72,"o":8.86},{"e":4.79,"o":9.29},{"e":4.88,"o":9.52},{"e":4.91,"o":10.0},{"e":4.98,"o":10.25},{"e":5.05,"o":10.47},{"e":5.24,"o":10.97},{"e":5.32,"o":11.04},{"e":5.5,"o":11.57},{"e":5.85,"o":12.15},{"e":5.86,"o":12.29},{"e":5.96,"o":14.15}],
"qbRef": [{"e":0,"o":0},{"e":5.96,"o":5.96}],
"qcLine": [{"e":0,"o":0},{"e":1,"o":1},{"e":2,"o":2},{"e":3,"o":3},{"e":4,"o":3.98},{"e":4.5,"o":4.33},{"e":5.0,"o":4.67},{"e":5.05,"o":4.75},{"e":5.1,"o":4.9},{"e":5.3,"o":5.19},{"e":5.5,"o":5.42},{"e":5.6,"o":5.65},{"e":5.7,"o":5.82},{"e":5.8,"o":6.0},{"e":5.85,"o":6.17}],
"qcPts": [{"e":5.9,"o":6.22},{"e":5.95,"o":6.25},{"e":6.0,"o":6.28},{"e":6.05,"o":6.31},{"e":6.1,"o":6.35},{"e":6.15,"o":6.4},{"e":6.2,"o":6.57},{"e":6.22,"o":6.74},{"e":6.2,"o":7.99},{"e":6.63,"o":8.58},{"e":6.65,"o":8.81},{"e":7.85,"o":9.53}],
"qcRef": [{"e":0,"o":0},{"e":9.5,"o":9.5}],
"blank": [{"k": 1}]
},
"spacing": 9.2,
"vconcat": [
{
 "spacing": 0,
 "hconcat": [
 {"data": {"name": "blank"}, "width": 1, "height": 1, "view": {"stroke": null}, "mark": {"type": "text", "text": ""}, "encoding": {}},
 {
 "title": {"text": "A", "anchor": "start", "frame": "bounds", "fontSize": 12, "fontWeight": "bold", "offset": 7},
 "width": 635, "height": 285,
 "view": {"stroke": "#333", "strokeWidth": 1},
 "layer": [
  {"data": {"name": "seg"}, "mark": {"type": "rect"},
   "encoding": {
    "x": {"field": "s", "type": "quantitative", "title": "Chromosome",
      "scale": {"domain": [0, 634.7], "nice": false, "zero": false},
      "axis": {"values": [24.5,74.5,121.2,162.7,202.35,243.85,283.35,317.35,348.2,378.05,409.7,440.55,466.4,487.7,508.35,529.7,551.05,570.7,588.7,605.4,618.7,629.35],
        "labelExpr": "indexof([24.5,74.5,121.2,162.7,202.35,243.85,283.35,317.35,348.2,378.05,409.7,440.55,466.4,487.7,508.35,529.7,551.05,570.7,588.7,605.4,618.7,629.35], datum.value) + 1",
        "labelAngle": -45, "labelAlign": "center", "labelBaseline": "middle", "labelPadding": 8, "labelOverlap": false, "labelBound": false, "labelFlush": false, "labelFontSize": 10.5, "labelColor": "#111",
        "tickSize": 4, "tickColor": "#333", "domain": false, "grid": false, "titleFontSize": 13, "titlePadding": 9}},
    "x2": {"field": "e"},
    "y": {"field": "t", "type": "quantitative", "title": "-log10(p-value)",
      "scale": {"domain": [1.33, 14.98], "nice": false, "zero": false},
      "axis": {"values": [2,4,6,8,10,12,14], "labelFontSize": 10.5, "labelColor": "#111", "tickSize": 4, "tickColor": "#333", "labelPadding": 4, "domain": false, "grid": false, "titleFontSize": 13, "titlePadding": 6.3}},
    "y2": {"datum": 1.33},
    "fill": {"field": "c", "type": "nominal", "legend": null,
      "scale": {"domain": [1,2,3,4,5,6,7,8,9,10,11,12,13,14,15,16,17,18,19,20,21,22],
        "range": ["#4a70b7","#aaa6a6","#4a70b7","#aaa6a6","#4a70b7","#aaa6a6","#4a70b7","#aaa6a6","#4a70b7","#aaa6a6","#4a70b7","#aaa6a6","#4a70b7","#aaa6a6","#4a70b7","#aaa6a6","#4a70b7","#aaa6a6","#4a70b7","#aaa6a6","#4a70b7","#aaa6a6"]}}
   }},
  {"data": {"name": "pts"}, "mark": {"type": "circle", "size": 10, "opacity": 1},
   "encoding": {
    "x": {"field": "x", "type": "quantitative", "title": "Chromosome",
      "axis": {"values": [24.5,74.5,121.2,162.7,202.35,243.85,283.35,317.35,348.2,378.05,409.7,440.55,466.4,487.7,508.35,529.7,551.05,570.7,588.7,605.4,618.7,629.35],
        "labelExpr": "indexof([24.5,74.5,121.2,162.7,202.35,243.85,283.35,317.35,348.2,378.05,409.7,440.55,466.4,487.7,508.35,529.7,551.05,570.7,588.7,605.4,618.7,629.35], datum.value) + 1",
        "labelAngle": -45, "labelAlign": "center", "labelBaseline": "middle", "labelPadding": 8, "labelOverlap": false, "labelBound": false, "labelFlush": false, "labelFontSize": 10.5, "labelColor": "#111",
        "tickSize": 4, "tickColor": "#333", "domain": false, "grid": false, "titleFontSize": 13, "titlePadding": 9}},
    "y": {"field": "p", "type": "quantitative", "title": "-log10(p-value)"},
    "fill": {"field": "c", "type": "nominal", "legend": null}
   }},
  {"data": {"name": "thr"}, "mark": {"type": "rule", "strokeDash": [6, 3], "strokeWidth": 1.6},
   "encoding": {
    "y": {"field": "v", "type": "quantitative", "title": "-log10(p-value)"},
    "stroke": {"field": "label", "type": "nominal",
      "scale": {"domain": ["5e-8", "5e-6"], "range": ["#ec3535", "#f39d9d"]},
      "legend": {"title": null, "orient": "none", "legendX": 603, "legendY": 3.5, "symbolType": "M-2,0H2", "symbolSize": 121, "symbolStrokeWidth": 2, "symbolDash": [5, 2.5], "symbolOffset": 2, "labelFontSize": 11, "labelColor": "#111", "labelOffset": 18.5, "rowPadding": 5, "padding": 5, "strokeColor": "#d4d4d4", "fillColor": "white", "cornerRadius": 3}}
   }}
 ]
 }
 ]
},
{
 "spacing": 0,
 "hconcat": [
 {"data": {"name": "blank"}, "width": 1, "height": 1, "view": {"stroke": null}, "mark": {"type": "text", "text": ""}, "encoding": {}},
 {
 "spacing": 22,
 "hconcat": [
 {
  "title": {"text": "B", "anchor": "start", "frame": "bounds", "fontSize": 12, "fontWeight": "bold", "offset": 27},
  "width": 301, "height": 303,
  "view": {"stroke": "#999", "strokeWidth": 1.2},
  "encoding": {
   "x": {"type": "quantitative", "title": "Expected -log10(p-value)", "scale": {"domain": [-0.2975, 6.2475], "nice": false, "zero": false},
     "axis": {"values": [0,1,2,3,4,5,6], "grid": true, "gridDash": [2,2], "gridColor": "#d2d2d2", "domain": false, "tickColor": "#999", "tickSize": 3, "labelFontSize": 8.5, "labelColor": "#333", "labelPadding": 2, "titleFontSize": 11, "titlePadding": 3}},
   "y": {"type": "quantitative", "title": "Observed -log10(p-value)", "scale": {"domain": [-0.71, 14.86], "nice": false, "zero": false},
     "axis": {"values": [0,2,4,6,8,10,12,14], "grid": true, "gridDash": [2,2], "gridColor": "#d2d2d2", "domain": false, "tickColor": "#999", "tickSize": 3, "labelFontSize": 8.5, "labelColor": "#333", "labelPadding": 2, "titleFontSize": 11, "titlePadding": 4}}
  },
  "layer": [
   {"data": {"name": "qbLine"}, "mark": {"type": "line", "color": "black", "strokeWidth": 3}, "encoding": {"x": {"field": "e"}, "y": {"field": "o"}}},
   {"data": {"name": "qbPts"}, "mark": {"type": "circle", "color": "black", "size": 4, "opacity": 1}, "encoding": {"x": {"field": "e"}, "y": {"field": "o"}}},
   {"data": {"name": "qbRef"}, "mark": {"type": "line", "color": "#e8302a", "strokeWidth": 1.8, "strokeDash": [6, 3]}, "encoding": {"x": {"field": "e"}, "y": {"field": "o"}}},
   {"data": {"name": "blank"}, "mark": {"type": "rect", "fill": "white", "stroke": "#aaa", "strokeWidth": 1, "cornerRadius": 5}, "encoding": {"x": {"datum": 4.36}, "x2": {"datum": 6.03}, "y": {"datum": -0.19}, "y2": {"datum": 0.955}}},
   {"data": {"name": "blank"}, "mark": {"type": "text", "text": "λ", "fontSize": 12.5, "fontStyle": "italic", "align": "left", "baseline": "alphabetic", "color": "#111"}, "encoding": {"x": {"datum": 4.413}, "y": {"datum": 0.185}}},
   {"data": {"name": "blank"}, "mark": {"type": "text", "text": "GC", "fontSize": 9.5, "fontStyle": "italic", "align": "left", "baseline": "alphabetic", "dy": 3, "color": "#111"}, "encoding": {"x": {"datum": 4.54}, "y": {"datum": 0.185}}},
   {"data": {"name": "blank"}, "mark": {"type": "text", "text": "=", "fontSize": 12, "align": "left", "baseline": "alphabetic", "color": "#111"}, "encoding": {"x": {"datum": 4.98}, "y": {"datum": 0.185}}},
   {"data": {"name": "blank"}, "mark": {"type": "text", "text": "1.024", "fontSize": 11.5, "align": "left", "baseline": "alphabetic", "color": "#111"}, "encoding": {"x": {"datum": 5.26}, "y": {"datum": 0.185}}}
  ]
 },
 {
  "title": {"text": "C", "anchor": "start", "frame": "bounds", "fontSize": 12, "fontWeight": "bold", "offset": 27},
  "width": 306, "height": 303,
  "view": {"stroke": "#999", "strokeWidth": 1.2},
  "encoding": {
   "x": {"type": "quantitative", "title": "Expected -log10(p-value)", "scale": {"domain": [-0.475, 9.975], "nice": false, "zero": false},
     "axis": {"values": [0,2,4,6,8], "grid": true, "gridDash": [2,2], "gridColor": "#d2d2d2", "domain": false, "tickColor": "#999", "tickSize": 3, "labelFontSize": 8.5, "labelColor": "#333", "labelPadding": 2, "titleFontSize": 11, "titlePadding": 3}},
   "y": {"type": "quantitative", "title": "Observed -log10(p-value)", "scale": {"domain": [-0.475, 9.975], "nice": false, "zero": false},
     "axis": {"values": [0,2,4,6,8], "grid": true, "gridDash": [2,2], "gridColor": "#d2d2d2", "domain": false, "tickColor": "#999", "tickSize": 3, "labelFontSize": 8.5, "labelColor": "#333", "labelPadding": 2, "titleFontSize": 11, "titlePadding": 6.5}}
  },
  "layer": [
   {"data": {"name": "qcLine"}, "mark": {"type": "line", "color": "black", "strokeWidth": 3}, "encoding": {"x": {"field": "e"}, "y": {"field": "o"}}},
   {"data": {"name": "qcPts"}, "mark": {"type": "circle", "color": "black", "size": 4, "opacity": 1}, "encoding": {"x": {"field": "e"}, "y": {"field": "o"}}},
   {"data": {"name": "qcRef"}, "mark": {"type": "line", "color": "#e8302a", "strokeWidth": 1.8, "strokeDash": [6, 3]}, "encoding": {"x": {"field": "e"}, "y": {"field": "o"}}},
   {"data": {"name": "blank"}, "mark": {"type": "rect", "fill": "white", "stroke": "#aaa", "strokeWidth": 1, "cornerRadius": 5}, "encoding": {"x": {"datum": 7.09}, "x2": {"datum": 9.68}, "y": {"datum": -0.13}, "y2": {"datum": 0.64}}},
   {"data": {"name": "blank"}, "mark": {"type": "text", "text": "λ", "fontSize": 12.5, "fontStyle": "italic", "align": "left", "baseline": "alphabetic", "color": "#111"}, "encoding": {"x": {"datum": 7.288}, "y": {"datum": 0.124}}},
   {"data": {"name": "blank"}, "mark": {"type": "text", "text": "GC", "fontSize": 9.5, "fontStyle": "italic", "align": "left", "baseline": "alphabetic", "dy": 3, "color": "#111"}, "encoding": {"x": {"datum": 7.49}, "y": {"datum": 0.124}}},
   {"data": {"name": "blank"}, "mark": {"type": "text", "text": "=", "fontSize": 12, "align": "left", "baseline": "alphabetic", "color": "#111"}, "encoding": {"x": {"datum": 7.97}, "y": {"datum": 0.124}}},
   {"data": {"name": "blank"}, "mark": {"type": "text", "text": "1.011", "fontSize": 11.8, "align": "left", "baseline": "alphabetic", "color": "#111"}, "encoding": {"x": {"datum": 8.37}, "y": {"datum": 0.124}}}
  ]
 }
 ]
 }
 ]
}
]
}
